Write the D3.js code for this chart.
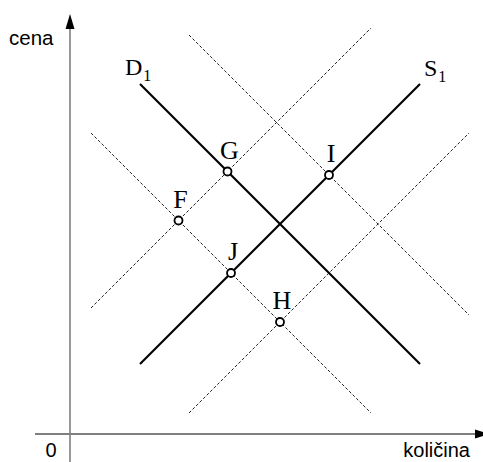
<!DOCTYPE html>
<html><head><meta charset="utf-8">
<script src="https://cdn.jsdelivr.net/npm/d3@7"></script>
<style>body{margin:0;background:#fff}svg{display:block}</style>
</head><body>
<svg id="c" width="483" height="462"></svg>
<script>
// Curves (quantity, price)
const demandD1 = [[5, 25], [25, 5]];
const supplyS1 = [[5, 5], [25, 25]];
const supplyDashedLeft = [[1.5, 9], [21.5, 29]];
const supplyDashedRight = [[8.5, 1.5], [28.5, 21.5]];
const demandDashedLow = [[1.5, 21.5], [21.5, 1.5]];
const demandDashedHigh = [[8.5, 28.5], [28.5, 8.5]];
// Equilibrium points
const pointLabels = ["F", "G", "H", "I", "J"];
const pointQ = [7.75, 11.25, 15, 18.5, 11.5];
const pointP = [15.25, 18.75, 8, 18.5, 11.5];
const axisLabels = {x: "količina", y: "cena", origin: "0"};

const svg = d3.select("#c");
const x = d3.scaleLinear().domain([0, 30]).range([70, 490]);
const y = d3.scaleLinear().domain([0, 30]).range([434, 14]);
const line = d3.line().x(d => x(d[0])).y(d => y(d[1]));

// axes
svg.append("line").attr("x1", 35).attr("x2", 478).attr("y1", y(0)).attr("y2", y(0))
  .attr("stroke", "#000").attr("stroke-width", 1.2);
svg.append("path").attr("d", `M${x(0)+405},${y(0)-4.5} L${x(0)+420},${y(0)} L${x(0)+405},${y(0)+4.5}Z`).attr("fill", "#000");
svg.append("line").attr("x1", x(0)).attr("x2", x(0)).attr("y1", 462).attr("y2", 26)
  .attr("stroke", "#7f7f7f").attr("stroke-width", 1.6);
svg.append("path").attr("d", `M${x(0)-4.5},${29} L${x(0)},${14} L${x(0)+4.5},${29}Z`).attr("fill", "#000");

const sans = "Liberation Sans, Arial, sans-serif";
svg.append("text").attr("x", 9).attr("y", 45).text(axisLabels.y)
  .attr("font-family", sans).attr("font-size", 20.5);
svg.append("text").attr("x", 470).attr("y", 457).attr("text-anchor", "end").text(axisLabels.x)
  .attr("font-family", sans).attr("font-size", 20);
svg.append("text").attr("x", 51).attr("y", 457).attr("text-anchor", "middle").text(axisLabels.origin)
  .attr("font-family", sans).attr("font-size", 20);

// dashed lines
[supplyDashedLeft, supplyDashedRight, demandDashedLow, demandDashedHigh].forEach(d => {
  svg.append("path").attr("d", line(d)).attr("fill", "none")
    .attr("stroke", "#222").attr("stroke-width", 1).attr("stroke-dasharray", "3,2");
});
// solid curves
[demandD1, supplyS1].forEach(d => {
  svg.append("path").attr("d", line(d)).attr("fill", "none")
    .attr("stroke", "#000").attr("stroke-width", 2.1);
});

// curve labels
const serif = "Liberation Serif, Times New Roman, serif";
function curveLabel(letter, px, py) {
  const t = svg.append("text").attr("x", px).attr("y", py)
    .attr("font-family", serif).attr("font-size", 24);
  t.append("tspan").text(letter);
  t.append("tspan").attr("font-size", 16).attr("dx", 1).attr("dy", 6).text("1");
}
curveLabel("D", x(demandD1[0][0]) - 15, y(demandD1[0][1]) - 9);
curveLabel("S", x(supplyS1[1][0]) + 4, y(supplyS1[1][1]) - 8);

// points
pointLabels.forEach((lab, i) => {
  const cx = x(pointQ[i]), cy = y(pointP[i]);
  svg.append("circle").attr("cx", cx).attr("cy", cy).attr("r", 4)
    .attr("fill", "#fff").attr("stroke", "#000").attr("stroke-width", 1.8);
  svg.append("text").attr("x", cx + 2).attr("y", cy - 13).attr("text-anchor", "middle")
    .attr("font-family", serif).attr("font-size", 26)
    .text(lab);
});
</script>
</body></html>
